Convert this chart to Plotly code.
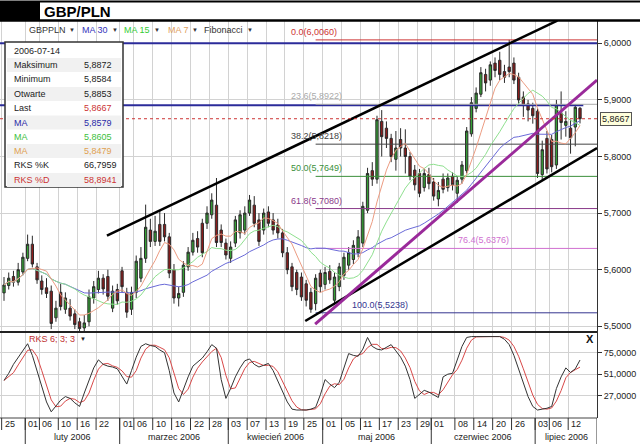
import numpy as np
import pandas as pd
import plotly.graph_objects as go

# ---------------- data ----------------
dates = pd.bdate_range("2006-01-25", "2006-07-14")

opens = [
    5.559, 5.572, 5.588, 5.578, 5.596, 5.620, 5.645, 5.605, 5.580, 5.568,
    5.562, 5.515, 5.560, 5.530, 5.532, 5.522, 5.508, 5.497, 5.508, 5.550,
    5.565, 5.585, 5.588, 5.532, 5.565, 5.598, 5.560, 5.530, 5.560, 5.585,
    5.620, 5.670, 5.650, 5.680, 5.680, 5.658, 5.600, 5.550, 5.560, 5.605,
    5.631, 5.655, 5.682, 5.682, 5.697, 5.714, 5.670, 5.647, 5.620, 5.647,
    5.665, 5.670, 5.700, 5.714, 5.688, 5.670, 5.702, 5.688, 5.679, 5.665,
    5.630, 5.605, 5.595, 5.587, 5.575, 5.560, 5.540, 5.594, 5.574, 5.597,
    5.546, 5.570, 5.590, 5.608, 5.618, 5.630, 5.647, 5.705, 5.775, 5.760,
    5.862, 5.850, 5.832, 5.795, 5.830, 5.815, 5.800, 5.776, 5.770, 5.745,
    5.768, 5.755, 5.725, 5.760, 5.745, 5.765, 5.735, 5.760, 5.775, 5.840,
    5.885, 5.910, 5.945, 5.935, 5.965, 5.970, 5.950, 5.958, 5.965, 5.940,
    5.905, 5.893, 5.885, 5.880, 5.768, 5.832, 5.830, 5.785, 5.877, 5.855,
    5.850, 5.852, 5.8853]
highs = [
    5.587, 5.595, 5.598, 5.612, 5.630, 5.662, 5.660, 5.612, 5.590, 5.585,
    5.572, 5.545, 5.575, 5.560, 5.548, 5.530, 5.515, 5.520, 5.565, 5.580,
    5.598, 5.592, 5.600, 5.572, 5.575, 5.605, 5.568, 5.570, 5.625, 5.640,
    5.715, 5.690, 5.695, 5.705, 5.700, 5.665, 5.610, 5.570, 5.615, 5.640,
    5.665, 5.668, 5.690, 5.712, 5.735, 5.762, 5.680, 5.655, 5.650, 5.695,
    5.705, 5.712, 5.732, 5.730, 5.700, 5.708, 5.712, 5.700, 5.690, 5.672,
    5.640, 5.612, 5.600, 5.595, 5.582, 5.568, 5.592, 5.600, 5.605, 5.608,
    5.595, 5.612, 5.630, 5.640, 5.652, 5.670, 5.720, 5.780, 5.790, 5.872,
    5.882, 5.862, 5.840, 5.845, 5.850, 5.848, 5.808, 5.785, 5.778, 5.778,
    5.780, 5.762, 5.755, 5.770, 5.770, 5.772, 5.765, 5.792, 5.852, 5.905,
    5.922, 5.958, 5.955, 5.968, 5.975, 5.985, 5.962, 6.006, 5.975, 5.948,
    5.915, 5.900, 5.895, 5.885, 5.828, 5.845, 5.838, 5.900, 5.915, 5.880,
    5.865, 5.892, 5.8872]
lows = [
    5.545, 5.565, 5.570, 5.572, 5.590, 5.615, 5.604, 5.575, 5.556, 5.550,
    5.495, 5.508, 5.528, 5.522, 5.510, 5.495, 5.488, 5.490, 5.500, 5.540,
    5.558, 5.556, 5.545, 5.525, 5.538, 5.560, 5.515, 5.520, 5.550, 5.578,
    5.612, 5.640, 5.642, 5.642, 5.650, 5.585, 5.540, 5.535, 5.552, 5.598,
    5.625, 5.630, 5.622, 5.672, 5.690, 5.640, 5.640, 5.618, 5.612, 5.640,
    5.655, 5.662, 5.695, 5.675, 5.642, 5.662, 5.675, 5.662, 5.655, 5.622,
    5.592, 5.562, 5.555, 5.545, 5.535, 5.5238, 5.528, 5.560, 5.565, 5.575,
    5.541, 5.562, 5.582, 5.600, 5.610, 5.622, 5.640, 5.700, 5.748, 5.752,
    5.800, 5.815, 5.790, 5.775, 5.800, 5.770, 5.758, 5.740, 5.728, 5.738,
    5.742, 5.722, 5.712, 5.735, 5.738, 5.740, 5.718, 5.752, 5.770, 5.835,
    5.878, 5.905, 5.915, 5.925, 5.940, 5.935, 5.930, 5.940, 5.928, 5.890,
    5.870, 5.862, 5.858, 5.762, 5.758, 5.770, 5.772, 5.778, 5.830, 5.835,
    5.805, 5.818, 5.8584]
closes = [
    5.573, 5.585, 5.578, 5.600, 5.622, 5.645, 5.610, 5.582, 5.565, 5.558,
    5.505, 5.532, 5.535, 5.550, 5.518, 5.503, 5.496, 5.506, 5.552, 5.570,
    5.585, 5.566, 5.553, 5.562, 5.545, 5.570, 5.525, 5.560, 5.615, 5.620,
    5.675, 5.650, 5.668, 5.650, 5.658, 5.594, 5.550, 5.558, 5.608, 5.631,
    5.652, 5.640, 5.630, 5.700, 5.723, 5.648, 5.648, 5.626, 5.640, 5.688,
    5.697, 5.700, 5.723, 5.682, 5.650, 5.700, 5.682, 5.670, 5.665, 5.630,
    5.600, 5.570, 5.565, 5.552, 5.546, 5.530, 5.585, 5.570, 5.595, 5.582,
    5.587, 5.605, 5.622, 5.630, 5.643, 5.658, 5.712, 5.770, 5.760, 5.865,
    5.835, 5.832, 5.800, 5.815, 5.815, 5.800, 5.765, 5.750, 5.735, 5.770,
    5.752, 5.730, 5.740, 5.742, 5.762, 5.750, 5.758, 5.785, 5.845, 5.895,
    5.912, 5.948, 5.930, 5.962, 5.952, 5.945, 5.940, 5.950, 5.935, 5.900,
    5.890, 5.882, 5.872, 5.770, 5.812, 5.778, 5.782, 5.892, 5.860, 5.862,
    5.833, 5.887, 5.8667]

stoch_k = [
    44, 52, 62, 70, 78, 85, 72, 55, 38, 20,
    9, 15, 22, 26, 24, 19, 15, 30, 45, 58,
    67, 62, 60, 59, 57, 48, 40, 55, 70, 82,
    85, 83, 82, 78, 75, 55, 30, 20, 35, 48,
    60, 65, 69, 76, 84, 80, 45, 24, 35, 48,
    58, 66, 68, 62, 59, 61, 63, 55, 43, 32,
    20, 12, 11, 11, 11, 12, 14, 28, 45, 40,
    36, 42, 58, 74, 72, 71, 79, 92, 82, 79,
    78, 81, 84, 77, 70, 60, 45, 24, 28, 33,
    31, 28, 25, 48, 51, 52, 66, 82, 92, 93,
    93, 93, 93, 93, 93, 93, 90, 84, 72, 57,
    42, 26, 15, 11, 12, 13, 15, 35, 48, 58,
    52.9, 57, 66.7959]

ma_periods = [30, 15, 7]
ma_colors = ["#6a6ad8", "#8fe08f", "#ec9c82"]

fib_pcts = [0.0, 23.6, 38.2, 50.0, 61.8, 76.4, 100.0]
fib_high = 6.0060
fib_low = 5.5238
fib_start_date = "2006-04-27"
fib_colors = ["#cc3333", "#aaaaaa", "#444444", "#3a8f3a", "#8a3a8a", "#d070d0", "#35358f"]

trend_upper_x, trend_upper_y = [21.8, 117.2], [5.660, 6.040]
trend_lower_x, trend_lower_y = [63.8, 125.6], [5.5094, 5.8150]
trend_purple_x, trend_purple_y = [65.9, 125.6], [5.5040, 5.9350]

blue_levels = [6.0000, 5.8905]
blue_ends = [125.6, 122.7]

tick_dates = ["2006-01-25", "2006-02-01", "2006-02-06", "2006-02-10", "2006-02-16",
              "2006-02-22", "2006-03-01", "2006-03-06", "2006-03-10", "2006-03-16",
              "2006-03-22", "2006-03-28", "2006-04-03", "2006-04-07", "2006-04-13",
              "2006-04-19", "2006-04-25", "2006-05-01", "2006-05-05", "2006-05-11",
              "2006-05-17", "2006-05-23", "2006-05-29", "2006-06-01", "2006-06-08",
              "2006-06-14", "2006-06-20", "2006-06-26", "2006-07-03", "2006-07-06",
              "2006-07-12"]
month_starts = ["2006-02-01", "2006-03-01", "2006-04-03", "2006-05-01", "2006-06-01", "2006-07-03"]
month_names = ["luty 2006", "marzec 2006", "kwiecień 2006", "maj 2006", "czerwiec 2006", "lipiec 2006"]

info_labels = ["Maksimum", "Minimum", "Otwarte", "Last", "MA", "MA", "MA", "RKS %K", "RKS %D"]
info_values = ["5,8872", "5,8584", "5,8853", "5,8667", "5,8579", "5,8605", "5,8479", "66,7959", "58,8941"]
info_label_colors = ["#222", "#222", "#222", "#222", "#2a2aa8", "#3cc03c", "#e0a050", "#222", "#cc3333"]
info_value_colors = ["#222", "#222", "#222", "#cc3333", "#2a2aa8", "#3cc03c", "#e0a050", "#222", "#cc3333"]
info_date = "2006-07-14"

# ---------------- derived ----------------
pos = np.arange(len(dates))
loc = {d.strftime("%Y-%m-%d"): i for i, d in enumerate(dates)}
close_s = pd.Series(closes)
k_s = pd.Series(stoch_k)
stoch_d = k_s.rolling(3, min_periods=1).mean()

XMIN, XMAX = -0.85, 125.6
W, PH_TOP, PH_BOT = 597.0, 21.0, 418.0
PHH = PH_BOT - PH_TOP
def PX(px): return px / W
def PY(py): return (PH_BOT - py) / PHH

FONT = "Liberation Sans, Arial, DejaVu Sans, sans-serif"
def fmt(v, d=4): return f"{v:.{d}f}".replace(".", ",")

fig = go.Figure()

# blue user lines (under candles)
for lv, xe in zip(blue_levels, blue_ends):
    fig.add_trace(go.Scatter(x=[XMIN, xe], y=[lv, lv], mode="lines",
                             line=dict(color="#2b2b9a", width=2), hoverinfo="skip",
                             xaxis="x", yaxis="y"))

# fibonacci lines
fib_x0 = loc[fib_start_date]
fib_vals = [fib_high - (fib_high - fib_low) * p / 100 for p in fib_pcts]
for v, c in zip(fib_vals, fib_colors):
    fig.add_trace(go.Scatter(x=[fib_x0, XMAX], y=[v, v], mode="lines",
                             line=dict(color=c, width=1), hoverinfo="skip",
                             xaxis="x", yaxis="y"))

# moving averages
for n, c in zip(ma_periods, ma_colors):
    fig.add_trace(go.Scatter(x=pos, y=close_s.rolling(n, min_periods=1).mean(), mode="lines",
                             line=dict(color=c, width=1), hoverinfo="skip",
                             xaxis="x", yaxis="y"))

# candles
fig.add_trace(go.Candlestick(
    x=pos, open=opens, high=highs, low=lows, close=closes,
    increasing=dict(line=dict(color="#2a2a2a", width=1), fillcolor="#35a035"),
    decreasing=dict(line=dict(color="#2a2a2a", width=1), fillcolor="#8c1c1c"),
    whiskerwidth=0, xaxis="x", yaxis="y", hoverinfo="skip"))

# trend lines
fig.add_trace(go.Scatter(x=trend_upper_x, y=trend_upper_y, mode="lines",
                         line=dict(color="black", width=2.5), xaxis="x", yaxis="y"))
fig.add_trace(go.Scatter(x=trend_lower_x, y=trend_lower_y, mode="lines",
                         line=dict(color="black", width=2.5), xaxis="x", yaxis="y"))
fig.add_trace(go.Scatter(x=trend_purple_x, y=trend_purple_y, mode="lines",
                         line=dict(color="#9a2a9a", width=3), xaxis="x", yaxis="y"))

# stochastic
fig.add_trace(go.Scatter(x=pos, y=stoch_d, mode="lines", line=dict(color="#d84848", width=1),
                         xaxis="x2", yaxis="y2"))
fig.add_trace(go.Scatter(x=pos, y=k_s, mode="lines", line=dict(color="#333333", width=1),
                         xaxis="x2", yaxis="y2"))

tick_pos = [loc[d] - 0.5 for d in tick_dates]
month_pos = [loc[d] - 0.5 for d in month_starts]

shapes = []
ann = []

# title bar
shapes.append(dict(type="rect", xref="paper", yref="paper", x0=PX(0), x1=PX(40),
                   y0=PY(20), y1=PY(2), fillcolor="black", line_width=0))
shapes.append(dict(type="line", xref="paper", yref="paper", x0=PX(0), x1=PX(640),
                   y0=PY(1.5), y1=PY(1.5), line=dict(color="black", width=2)))
shapes.append(dict(type="line", xref="paper", yref="paper", x0=PX(0), x1=PX(640),
                   y0=PY(20.5), y1=PY(20.5), line=dict(color="black", width=2.5)))
ann.append(dict(text="<b>GBP/PLN</b>", xref="paper", yref="paper", x=PX(42), y=PY(11.5),
                xanchor="left", yanchor="middle", showarrow=False,
                font=dict(family=FONT, size=15, color="black")))

# panel separator & bottom line
shapes.append(dict(type="line", xref="paper", yref="paper", x0=0, x1=1,
                   y0=PY(332), y1=PY(332), line=dict(color="#222", width=2)))
shapes.append(dict(type="line", xref="paper", yref="paper", x0=0, x1=1,
                   y0=PY(418), y1=PY(418), line=dict(color="#444", width=1)))

# last price dotted line
shapes.append(dict(type="line", xref="paper", yref="y", x0=0, x1=1,
                   y0=closes[-1], y1=closes[-1], line=dict(color="#cc3333", width=1, dash="dot")))

# day labels + separators
for d, tp in zip(tick_dates, tick_pos):
    shapes.append(dict(type="line", xref="x2", yref="paper", x0=tp, x1=tp,
                       y0=PY(418), y1=PY(430), line=dict(color="#333", width=1)))
    ann.append(dict(text=d[-2:], xref="x2", yref="paper", x=tp, y=PY(424),
                    xanchor="left", yanchor="middle", xshift=1, showarrow=False,
                    font=dict(family=FONT, size=9, color="#222")))
bounds = month_pos + [XMAX]
for i, name in enumerate(month_names):
    shapes.append(dict(type="line", xref="x2", yref="paper", x0=bounds[i], x1=bounds[i],
                       y0=PY(418), y1=PY(444), line=dict(color="#333", width=1)))
    ann.append(dict(text=name, xref="x2", yref="paper", x=(bounds[i] + bounds[i + 1]) / 2,
                    y=PY(437), xanchor="center", yanchor="middle", showarrow=False,
                    font=dict(family=FONT, size=9, color="#222")))
shapes.append(dict(type="line", xref="x2", yref="paper", x0=XMAX, x1=XMAX,
                   y0=PY(418), y1=PY(444), line=dict(color="#333", width=1)))

# header menu
menu = [("GBPPLN", 27, "#333"), ("▼", 67, "#333"), ("MA 30", 80, "#3333bb"), ("▼", 110, "#333"),
        ("MA 15", 122, "#33cc33"), ("▼", 152, "#333"), ("MA 7", 166, "#e0a060"), ("▼", 190, "#333"),
        ("Fibonacci", 202, "#333"), ("▼", 245, "#333")]
for t, xpx, c in menu:
    ann.append(dict(text=t, xref="paper", yref="paper", x=PX(xpx), y=PY(30),
                    xanchor="left", yanchor="middle", showarrow=False,
                    font=dict(family=FONT, size=6 if t == "▼" else 9, color=c)))

# fibonacci labels
fib_label_px = [289, 289, 289, 289, 289, 456, 350]
for p, v, c, xpx in zip(fib_pcts, fib_vals, fib_colors, fib_label_px):
    ann.append(dict(text=f"{p:.1f}({fmt(v)})", xref="paper", yref="y", x=PX(xpx), y=v,
                    xanchor="left", yanchor="bottom", yshift=1, showarrow=False,
                    font=dict(family=FONT, size=9, color=c)))

# info box
bx0, bx1, by0, by1 = 5, 123, 42, 187
shapes.append(dict(type="rect", xref="paper", yref="paper", x0=PX(bx0), x1=PX(bx1),
                   y0=PY(by1), y1=PY(by0), fillcolor="white", line=dict(color="#333", width=1.5)))
row_y = [65, 79.5, 94, 108, 122.5, 137, 151, 165.5, 180]
for i, yy in enumerate(row_y):
    if i % 2 == 0:
        shapes.append(dict(type="rect", xref="paper", yref="paper", x0=PX(7), x1=PX(121),
                           y0=PY(yy + 7), y1=PY(yy - 7), fillcolor="#f1f1f1", line_width=0))
ann.append(dict(text=info_date, xref="paper", yref="paper", x=PX(12), y=PY(50.5),
                xanchor="left", yanchor="middle", showarrow=False,
                font=dict(family=FONT, size=9, color="#222")))
for lab, val, lc, vc, yy in zip(info_labels, info_values, info_label_colors, info_value_colors, row_y):
    ann.append(dict(text=lab, xref="paper", yref="paper", x=PX(12), y=PY(yy),
                    xanchor="left", yanchor="middle", showarrow=False,
                    font=dict(family=FONT, size=9, color=lc)))
    ann.append(dict(text=val, xref="paper", yref="paper", x=PX(82), y=PY(yy),
                    xanchor="left", yanchor="middle", showarrow=False,
                    font=dict(family=FONT, size=9, color=vc)))

# last price marker on axis
ann.append(dict(text=fmt(closes[-1]), xref="paper", yref="y", x=1, y=closes[-1],
                xanchor="left", yanchor="middle", xshift=3, showarrow=False,
                bgcolor="#ffffdc", bordercolor="#555", borderwidth=1, borderpad=1,
                font=dict(family=FONT, size=9, color="#222")))

# oscillator title and close mark
ann.append(dict(text="RKS 6; 3; 3", xref="paper", yref="paper", x=PX(27), y=PY(339),
                xanchor="left", yanchor="middle", showarrow=False,
                font=dict(family=FONT, size=9, color="#c03030")))
ann.append(dict(text="▼", xref="paper", yref="paper", x=PX(78), y=PY(339),
                xanchor="left", yanchor="middle", showarrow=False,
                font=dict(family=FONT, size=6, color="#222")))
ann.append(dict(text="<b>X</b>", xref="paper", yref="paper", x=PX(590), y=PY(339),
                xanchor="center", yanchor="middle", showarrow=False,
                font=dict(family=FONT, size=11, color="#111")))

split = (PH_BOT - 332) / PHH
axis_common = dict(range=[XMIN, XMAX], tickvals=tick_pos, showticklabels=False, ticks="",
                   showgrid=True, gridcolor="#d2d2d2", gridwidth=1, zeroline=False, showline=False)

fig.update_layout(
    width=640, height=444, margin=dict(l=0, r=43, t=21, b=26),
    paper_bgcolor="white", plot_bgcolor="white", showlegend=False,
    separators=", ",
    font=dict(family=FONT, size=9, color="#222"),
    xaxis=dict(domain=[0, 1], anchor="y", rangeslider=dict(visible=False), **axis_common),
    xaxis2=dict(domain=[0, 1], anchor="y2", matches="x", **axis_common),
    yaxis=dict(domain=[split, 1], anchor="x", side="right", range=[5.4899, 6.0394],
               tickvals=[5.5, 5.6, 5.7, 5.8, 5.9, 6.0], tickformat=".4f",
               ticks="outside", ticklen=4, tickcolor="#333", showline=True, linecolor="#333",
               showgrid=True, gridcolor="#d2d2d2", zeroline=False,
               tickfont=dict(family=FONT, size=9, color="#222")),
    yaxis2=dict(domain=[0, split], anchor="x2", side="right", range=[2.1, 98.1],
                tickvals=[27, 51, 75], tickformat=".4f",
                ticks="outside", ticklen=4, tickcolor="#333", showline=True, linecolor="#333",
                showgrid=True, gridcolor="#d2d2d2", zeroline=False,
                tickfont=dict(family=FONT, size=9, color="#222")),
    shapes=shapes, annotations=ann,
)

fig.write_html("out.html")
